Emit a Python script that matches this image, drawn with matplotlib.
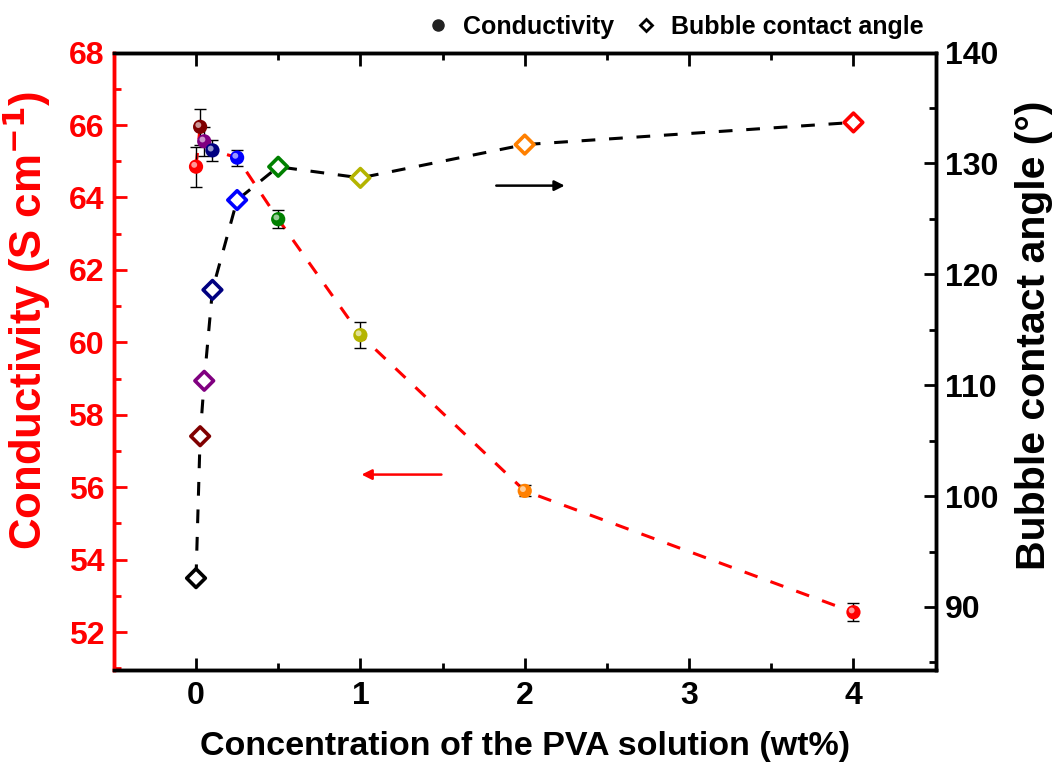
import matplotlib
matplotlib.use('Agg')
import matplotlib.pyplot as plt
from matplotlib.lines import Line2D
from matplotlib.ticker import MultipleLocator
from matplotlib import transforms

plt.rcParams['font.family'] = ['Liberation Sans', 'DejaVu Sans']
plt.rcParams['font.weight'] = 'bold'
plt.rcParams['mathtext.default'] = 'bf'

conc = [0, 0.025, 0.05, 0.1, 0.25, 0.5, 1, 2, 4]
conductivity = [64.85, 65.95, 65.55, 65.3, 65.1, 63.4, 60.2, 55.9, 52.55]
cond_err = [0.55, 0.5, 0.4, 0.3, 0.22, 0.25, 0.35, 0.15, 0.25]
angle = [92.6, 105.4, 110.4, 118.6, 126.7, 129.7, 128.7, 131.7, 133.7]
sphere_colors = ['#FF0000', '#800000', '#800080', '#000080', '#0000FF',
                 '#008000', '#B4B400', '#FF8000', '#FF0000']
diamond_colors = ['#000000', '#800000', '#800080', '#000080', '#0000FF',
                  '#008000', '#B4B400', '#FF8000', '#FF0000']

fig = plt.figure(figsize=(10.59, 7.73), dpi=100)
ax = fig.add_axes([0.1075, 0.133, 0.776, 0.799])
ax2 = ax.twinx()

# conductivity (left axis)
ax.plot(conc, conductivity, color='red', ls=(0, (4.5, 4.5)), lw=2.2, zorder=2)
ax.errorbar(conc, conductivity, yerr=cond_err, fmt='none', ecolor='black',
            elinewidth=1, capsize=4.5, capthick=1, zorder=3)
ax.scatter(conc, conductivity, s=105, c=sphere_colors, edgecolors='none', zorder=4)
hl = transforms.offset_copy(ax.transData, fig=fig, x=-1.3, y=1.3, units='points')
ax.scatter(conc, conductivity, s=18, c='white', alpha=0.6, edgecolors='none',
           transform=hl, zorder=5)

# bubble contact angle (right axis)
ax2.plot(conc, angle, color='black', ls=(0, (4.5, 4.5)), lw=2.2, zorder=2)
ax2.scatter(conc, angle, s=90, marker='D', facecolors='white',
            edgecolors=diamond_colors, linewidths=2.6, zorder=4)

ax.set_xlim(-0.5, 4.5)
ax.set_ylim(50.95, 68)
ax2.set_ylim(84.3, 140)

ax.xaxis.set_major_locator(MultipleLocator(1))
ax.xaxis.set_minor_locator(MultipleLocator(0.5))
ax.yaxis.set_major_locator(MultipleLocator(2))
ax.yaxis.set_minor_locator(MultipleLocator(1))
ax2.yaxis.set_major_locator(MultipleLocator(10))
ax2.yaxis.set_minor_locator(MultipleLocator(5))

for a in (ax, ax2):
    for s in a.spines.values():
        s.set_linewidth(2.5)
ax.spines['left'].set_color('red')
ax2.spines['left'].set_color('red')

ax.tick_params(axis='x', which='both', direction='in', top=True, width=2,
               labelsize=23, pad=8)
ax.tick_params(axis='x', which='major', length=9)
ax.tick_params(axis='x', which='minor', length=5)
ax.tick_params(axis='y', which='both', direction='in', colors='red', width=2,
               labelsize=23, pad=7)
ax.tick_params(axis='y', which='major', length=9)
ax.tick_params(axis='y', which='minor', length=5)
ax2.tick_params(axis='y', which='both', direction='in', width=2, labelsize=23, pad=7)
ax2.tick_params(axis='y', which='major', length=9)
ax2.tick_params(axis='y', which='minor', length=5)

ax.set_xlabel('Concentration of the PVA solution (wt%)', fontsize=24.5,
              fontweight='bold', labelpad=14)
ax.set_ylabel('Conductivity (S cm$^{\\mathbf{-1}}$)', fontsize=31.5, fontweight='bold',
              color='red')
ax2.set_ylabel('Bubble contact angle (\u00b0)', fontsize=29.5, fontweight='bold')
ax.yaxis.set_label_coords(-0.074, 0.566)
ax2.yaxis.set_label_coords(1.097, 0.542)

# direction arrows
ax2.annotate('', xy=(2.26, 128.0), xytext=(1.81, 128.0),
             arrowprops=dict(arrowstyle='-|>', color='black', lw=1.8,
                             mutation_scale=15))
ax.annotate('', xy=(0.99, 56.35), xytext=(1.51, 56.35),
            arrowprops=dict(arrowstyle='-|>', color='red', lw=1.8,
                            mutation_scale=15))

handles = [
    Line2D([], [], ls='none', marker='o', ms=8, color='#222222'),
    Line2D([], [], ls='none', marker='D', ms=6.5, markerfacecolor='white',
           markeredgecolor='black', markeredgewidth=2),
]
fig.legend(handles, ['Conductivity', 'Bubble contact angle'], loc='center',
           bbox_to_anchor=(0.637, 0.965), ncol=2, frameon=False,
           prop={'size': 18, 'weight': 'bold'}, handletextpad=0.5,
           columnspacing=0.8, handlelength=1.0)

fig.savefig('out.png', dpi=100)
